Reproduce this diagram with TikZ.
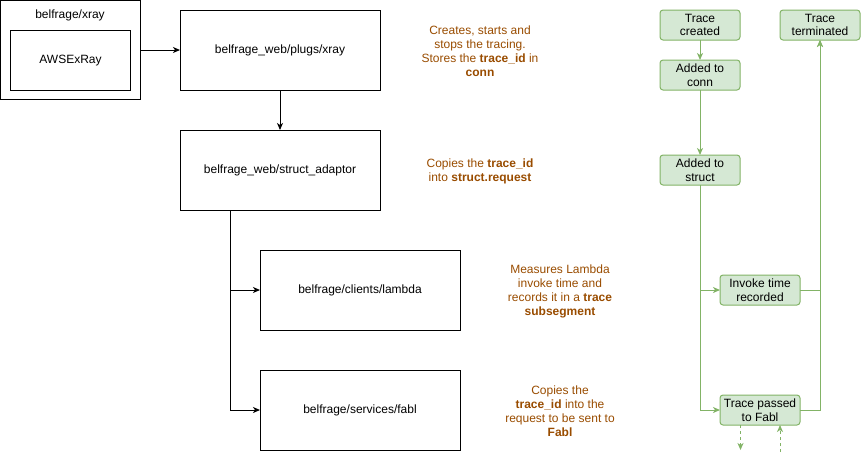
\documentclass[tikz,border=0pt]{standalone}
\usepackage{fontspec}
\setmainfont{Liberation Sans}
\usetikzlibrary{arrows.meta}
\definecolor{brn}{HTML}{994C00}
\definecolor{gfill}{HTML}{D5E8D4}
\definecolor{gline}{HTML}{82B366}
\begin{document}
\begin{tikzpicture}[x=1pt,y=-1pt,
  font=\fontsize{12}{14}\selectfont,
  box/.style={draw, line width=1pt, minimum width=200pt, minimum height=80pt, inner sep=0pt, outer sep=0pt, anchor=north west},
  gbox/.style={draw=gline, fill=gfill, line width=1pt, rounded corners=3pt, minimum width=80pt, minimum height=30pt, inner sep=0pt, outer sep=0pt, anchor=north west, align=center, font=\fontsize{12}{13.5}\selectfont},
  note/.style={text=brn, align=center, inner sep=0pt},
  arr/.style={line width=1pt, -{Stealth[length=7pt,width=6pt,inset=2pt]}},
  garr/.style={draw=gline, line width=1pt, -{Stealth[length=7pt,width=6pt,inset=2pt]}},
  gdash/.style={garr, dash pattern=on 3pt off 3pt}]
\useasboundingbox (0,0) rectangle (861,459);
% left group
\node[draw, line width=1pt, minimum width=139.5pt, minimum height=99pt, inner sep=0pt, outer sep=0pt, anchor=north west] (outer) at (0.5,0.5) {};
\node[inner sep=0pt] (outerlbl) at (70,15) {belfrage/xray};
\node[draw, line width=1pt, minimum width=120pt, minimum height=60pt, inner sep=0pt, anchor=north west] (aws) at (10,30) {AWSExRay};
% main boxes
\node[box] (xray) at (180,10) {belfrage\_web/plugs/xray};
\node[box] (struct) at (180,130) {belfrage\_web/struct\_adaptor};
\node[box] (lambda) at (260,250) {belfrage/clients/lambda};
\node[box] (fabl) at (260,370) {belfrage/services/fabl};
\draw[arr] (outer.east) -- (xray.west);
\draw[arr] (xray.south) -- (struct.north);
\draw[arr] ([xshift=50pt]struct.south west) |- (lambda.west);
\draw[arr] ([xshift=50pt]struct.south west) |- (fabl.west);
% notes
\node[note] (n1) at (480,51) {Creates, starts and\\stops the tracing.\\Stores the \textbf{trace\_id} in\\\textbf{conn}};
\node[note] (n2) at (480,171) {Copies the \textbf{trace\_id}\\into \textbf{struct.request}};
\node[note] (n3) at (560,291) {Measures Lambda\\invoke time and\\records it in a \textbf{trace}\\\textbf{subsegment}};
\node[note] (n4) at (560,411) {Copies the\\\textbf{trace\_id} into the\\request to be sent to\\\textbf{Fabl}};
% green flow
\node[gbox] (created) at (660,10) {Trace\\created};
\node[gbox] (term) at (780,10) {Trace\\terminated};
\node[gbox] (conn) at (660,60) {Added to\\conn};
\node[gbox] (gstruct) at (660,155) {Added to\\struct};
\node[gbox] (invoke) at (720,275) {Invoke time\\recorded};
\node[gbox] (tfabl) at (720,395) {Trace passed\\to Fabl};
\draw[garr] (created.south) -- (conn.north);
\draw[garr] (conn.south) -- (gstruct.north);
\draw[garr] (gstruct.south) |- (invoke.west);
\draw[garr] (gstruct.south) |- (tfabl.west);
\draw[garr] (invoke.east) -| (term.south);
\draw[garr] (tfabl.east) -| (term.south);
\coordinate (dnend) at (740.5,450);
\coordinate (upstart) at (780,452);
\draw[gdash] ([xshift=20.5pt]tfabl.south west) -- (dnend);
\draw[gdash] (upstart) -- ([xshift=60pt]tfabl.south west);
\end{tikzpicture}
\end{document}
